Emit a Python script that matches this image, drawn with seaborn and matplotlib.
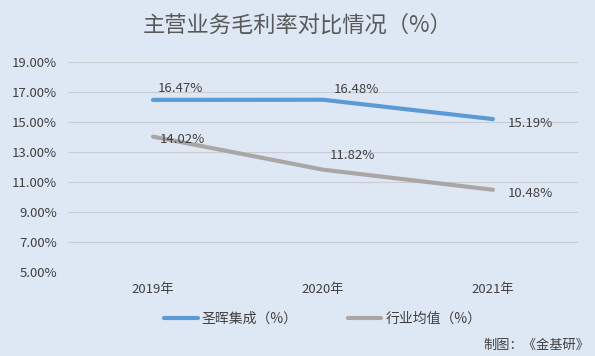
import pandas as pd
import numpy as np
import matplotlib
matplotlib.use("Agg")
import matplotlib.pyplot as plt
import seaborn as sns

years = ["2019年", "2020年", "2021年"]
company = [16.47, 16.48, 15.19]
industry = [14.02, 11.82, 10.48]
series_names = ["圣晖集成（%）", "行业均值（%）"]
yticks = [5, 7, 9, 11, 13, 15, 17, 19]

sns.set_theme(style="white")
plt.rcParams['font.family'] = ['Noto Sans CJK SC', 'DejaVu Sans']

bg = "#DEE8F4"
txt = "#404040"
colors = ["#5B9BD5", "#A9A6A5"]

df = pd.DataFrame({
    "year": years * 2,
    "value": company + industry,
    "series": [series_names[0]] * 3 + [series_names[1]] * 3,
})

fig = plt.figure(figsize=(5.95, 3.56), dpi=100, facecolor=bg)
ax = fig.add_axes([0.1143, 0.236, 0.857, 0.59], facecolor=bg)

for yv in yticks:
    ax.axhline(yv, color="#C9CDD2", lw=0.8, zorder=0)

sns.lineplot(data=df, x="year", y="value", hue="series", palette=colors,
             linewidth=3, sort=False, ax=ax, legend=True)

# data labels
offsets_c = [(27, 11), (34, 10), (37, -4)]
offsets_i = [(29, -3), (30, 14), (37, -4)]
for i, v in enumerate(company):
    ax.annotate(f"{v:.2f}%", (i, v), xytext=offsets_c[i], textcoords="offset pixels",
                ha="center", va="center", fontsize=9.5, color=txt)
for i, v in enumerate(industry):
    ax.annotate(f"{v:.2f}%", (i, v), xytext=offsets_i[i], textcoords="offset pixels",
                ha="center", va="center", fontsize=9.5, color=txt)

ax.set_xlim(-0.5, 2.5)
ax.set_ylim(5, 19)
ax.set_yticks(yticks)
ax.set_yticklabels([f"{t:.2f}%" for t in yticks])
ax.tick_params(axis="both", length=0, labelsize=9.5, colors=txt, pad=8)
ax.set_xlabel("")
ax.set_ylabel("")
for s in ax.spines.values():
    s.set_visible(False)

leg = ax.legend(loc="upper center", bbox_to_anchor=(0.5, -0.13), ncol=2, frameon=False,
                fontsize=10, handlelength=2.4, handletextpad=0.3, columnspacing=3.6)
for t in leg.get_texts():
    t.set_color(txt)

fig.text(0.5, 0.93, "主营业务毛利率对比情况（%）", ha="center", va="center",
         fontsize=16, color="#595959")
fig.text(0.99, 0.03, "制图：《金基研》", ha="right", va="center", fontsize=9.5, color=txt)

fig.savefig("out.png", dpi=100, facecolor=bg)
